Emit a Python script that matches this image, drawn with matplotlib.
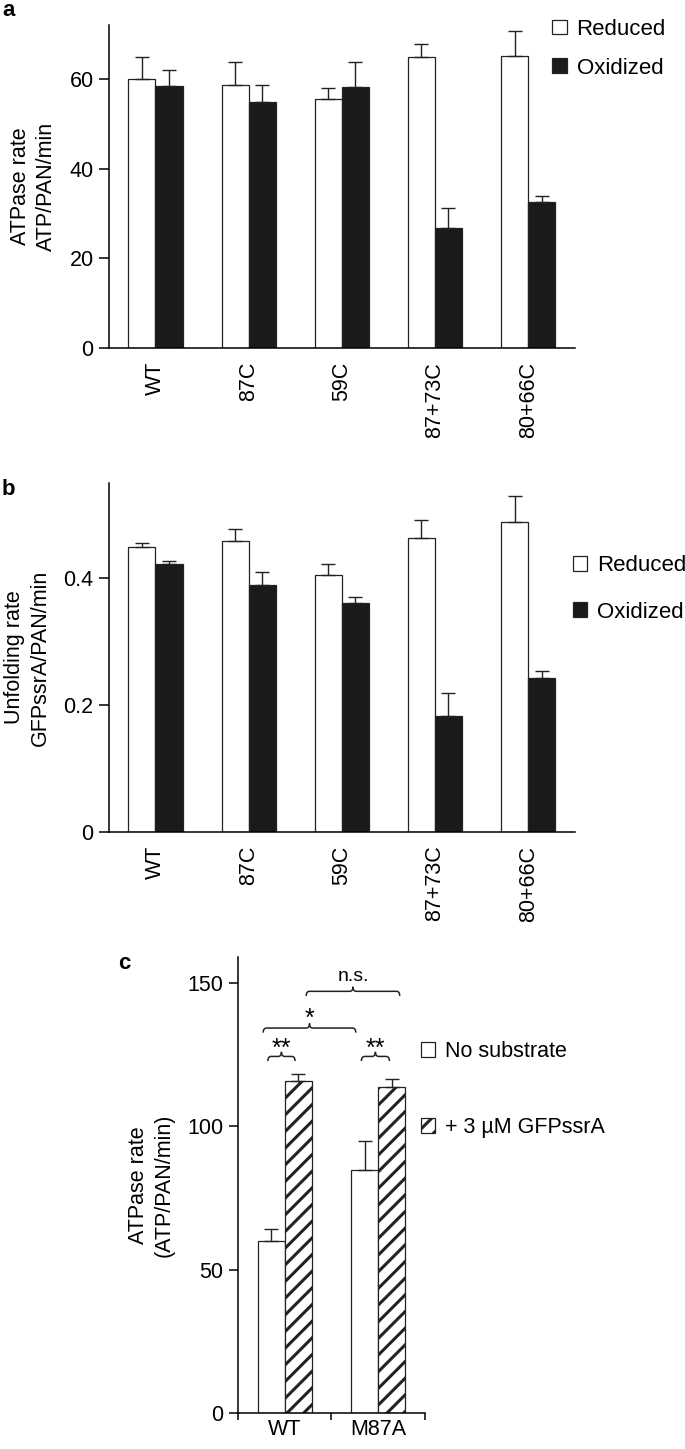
import numpy as np
import matplotlib
matplotlib.use('Agg')
import matplotlib.pyplot as plt
from matplotlib.path import Path
from matplotlib.patches import PathPatch

plt.rcParams['font.family'] = ['Liberation Sans', 'DejaVu Sans']
plt.rcParams['hatch.linewidth'] = 2.2
plt.rcParams['axes.linewidth'] = 1.1

# panel a: ATPase rate
mutants = ['WT', '87C', '59C', '87+73C', '80+66C']
atp_reduced = [60.0, 58.7, 55.6, 64.9, 65.2]
atp_reduced_err = [4.8, 5.0, 2.4, 2.8, 5.4]
atp_oxidized = [58.5, 54.8, 58.3, 26.8, 32.5]
atp_oxidized_err = [3.5, 3.8, 5.5, 4.4, 1.5]

# panel b: unfolding rate
unf_reduced = [0.449, 0.458, 0.405, 0.463, 0.489]
unf_reduced_err = [0.007, 0.019, 0.018, 0.028, 0.041]
unf_oxidized = [0.422, 0.389, 0.361, 0.182, 0.243]
unf_oxidized_err = [0.005, 0.021, 0.010, 0.037, 0.011]

# panel c: ATPase with substrate
variants = ['WT', 'M87A']
no_sub = [60.1, 84.7]
no_sub_err = [3.9, 10.2]
with_sub = [115.9, 113.6]
with_sub_err = [2.3, 2.7]

BLACK = '#1a1a1a'
EDGE = '#222222'
W = 0.29

fig = plt.figure(figsize=(6.85, 14.49), dpi=100)


def style_axes(ax):
    ax.spines['top'].set_visible(False)
    ax.spines['right'].set_visible(False)
    ax.tick_params(axis='y', direction='out', length=7, width=1.1, pad=4, labelsize=15.5)
    ax.tick_params(axis='x', length=0, pad=10, labelsize=15.5)


def err_kw():
    return dict(ecolor=EDGE, elinewidth=1.0, capsize=5, capthick=1.0)


def two_bar_panel(rect, red, red_err, ox, ox_err, ylim, yticks, yticklabels, ylabel, leg_anchor, leg_spacing):
    ax = fig.add_axes(rect)
    x = np.arange(len(mutants))
    b1 = ax.bar(x - W / 2, red, W, color='white', edgecolor=EDGE, linewidth=0.9,
                yerr=[np.zeros(len(red)), red_err], error_kw=err_kw(), label='Reduced')
    b2 = ax.bar(x + W / 2, ox, W, color=BLACK, edgecolor=EDGE, linewidth=0.9,
                yerr=[np.zeros(len(ox)), ox_err], error_kw=err_kw(), label='Oxidized')
    ax.set_xlim(-0.5, 4.5)
    ax.set_ylim(*ylim)
    ax.set_yticks(yticks)
    ax.set_yticklabels(yticklabels)
    ax.set_xticks(x)
    ax.set_xticklabels(mutants, rotation=90, va='top', ha='center')
    ax.set_ylabel(ylabel, fontsize=15.5, labelpad=9, linespacing=1.3)
    style_axes(ax)
    ax.legend(handles=[b1, b2], loc='upper left', bbox_to_anchor=leg_anchor,
              bbox_transform=fig.transFigure, frameon=False, fontsize=16,
              handlelength=0.65, handleheight=0.65, handletextpad=0.45,
              labelspacing=leg_spacing, borderpad=0, borderaxespad=0)
    return ax


two_bar_panel([0.159, 0.7598, 0.680, 0.2229], atp_reduced, atp_reduced_err,
              atp_oxidized, atp_oxidized_err, (0, 72), [0, 20, 40, 60],
              ['0', '20', '40', '60'], 'ATPase rate\nATP/PAN/min',
              (0.806, 0.987), 0.8)

two_bar_panel([0.159, 0.426, 0.680, 0.2406], unf_reduced, unf_reduced_err,
              unf_oxidized, unf_oxidized_err, (0, 0.55), [0, 0.2, 0.4],
              ['0', '0.2', '0.4'], 'Unfolding rate\nGFPssrA/PAN/min',
              (0.836, 0.617), 1.15)

# panel c
axc = fig.add_axes([0.3474, 0.0249, 0.273, 0.3147])
xc = np.arange(len(variants))
c1 = axc.bar(xc - W / 2, no_sub, W, color='white', edgecolor=EDGE, linewidth=0.9,
             yerr=[np.zeros(2), no_sub_err], error_kw=err_kw(), label='No substrate')
c2 = axc.bar(xc + W / 2, with_sub, W, color='white', edgecolor=EDGE, linewidth=0.9,
             hatch='//', yerr=[np.zeros(2), with_sub_err], error_kw=err_kw(),
             label='+ 3 \u00b5M GFPssrA')
axc.set_xlim(-0.5, 1.5)
axc.set_ylim(0, 159)
axc.set_yticks([0, 50, 100, 150])
axc.set_xticks(xc)
axc.set_xticklabels(variants)
axc.set_xticks([-0.5, 0.5, 1.5], minor=True)
style_axes(axc)
axc.tick_params(axis='y', length=6.5)
axc.tick_params(axis='x', which='major', pad=4.5)
axc.tick_params(axis='x', which='minor', length=5, width=1.1, direction='out')
axc.set_ylabel('ATPase rate\n(ATP/PAN/min)', fontsize=15.5, labelpad=9, linespacing=1.3)
axc.legend(handles=[c1, c2], loc='upper left', bbox_to_anchor=(0.615, 0.2815),
           bbox_transform=fig.transFigure, frameon=False, fontsize=15.5,
           handlelength=0.65, handleheight=0.65, handletextpad=0.45,
           labelspacing=2.55, borderpad=0, borderaxespad=0)


def brace(ax, x0, x1, y, d=1.6, r=0.035):
    xm = (x0 + x1) / 2
    verts = [(x0, y - d), (x0, y), (x0 + r, y),
             (xm - r, y), (xm, y), (xm, y + d),
             (xm, y), (xm + r, y),
             (x1 - r, y), (x1, y), (x1, y - d)]
    codes = [Path.MOVETO, Path.CURVE3, Path.CURVE3,
             Path.LINETO, Path.CURVE3, Path.CURVE3,
             Path.CURVE3, Path.CURVE3,
             Path.LINETO, Path.CURVE3, Path.CURVE3]
    ax.add_patch(PathPatch(Path(verts, codes), fill=False, edgecolor=EDGE,
                           lw=1.1, clip_on=False))
    return xm


# significance braces: (x0, x1, y, text, text baseline)
braces = [(-0.18, 0.11, 124.3, '**', 124.6), (0.82, 1.12, 124.3, '**', 124.6),
          (-0.23, 0.76, 134.2, '*', 134.8), (0.23, 1.23, 147.0, 'n.s.', 150.7)]
for x0, x1, y, txt, yt in braces:
    xm = brace(axc, x0, x1, y)
    axc.text(xm, yt, txt, ha='center', va='baseline',
             fontsize=18 if '*' in txt else 14, clip_on=False)

fig.text(0.003, 0.989, 'a', fontsize=16, fontweight='bold', va='baseline')
fig.text(0.003, 0.6584, 'b', fontsize=16, fontweight='bold', va='baseline')
fig.text(0.172, 0.3312, 'c', fontsize=16, fontweight='bold', va='baseline')

fig.savefig('out.png', dpi=100)
